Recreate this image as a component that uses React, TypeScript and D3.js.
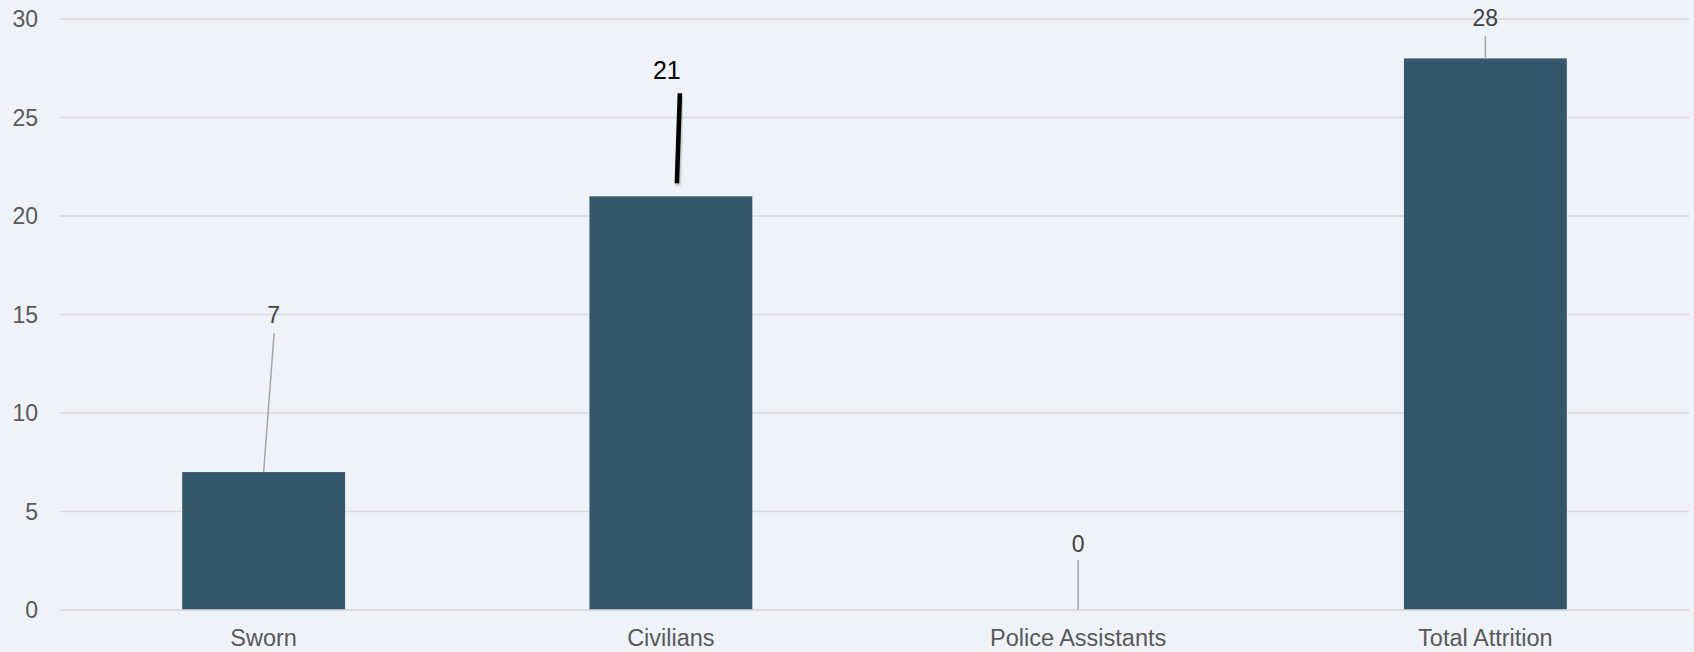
import React from "react";
import * as d3 from "d3";

const categories = ["Sworn", "Civilians", "Police Assistants", "Total Attrition"];
const values = [7, 21, 0, 28];
const yTicks = [0, 5, 10, 15, 20, 25, 30];

// label placement offsets relative to bar-top centre (layout, not data)
const labelLayout = [
  { lx: 10, ly: -149, x1: 10.5, y1: -139, x2: 0, y2: 0, emph: false },
  { lx: -4, ly: -117, x1: 9, y1: -103, x2: 6, y2: -13, emph: true },
  { lx: 0, ly: -58, x1: 0, y1: -50, x2: 0, y2: 0, emph: false },
  { lx: 0, ly: -32, x1: 0, y1: -22.5, x2: 0, y2: 0, emph: false },
];

const W = 1694;
const H = 652;
const left = 60;
const right = 1689;
const top = 19;
const bottom = 610;
const FONT = "Arial, 'Liberation Sans', sans-serif";

export default function App() {
  const x = d3
    .scaleBand<string>()
    .domain(categories)
    .range([left, right])
    .paddingInner(0.6)
    .paddingOuter(0.3);
  const y = d3.scaleLinear().domain([0, 30]).range([bottom, top]);

  return (
    <svg
      width={W}
      height={H}
      style={{ position: "absolute", left: 0, top: 0, background: "#eff3f8", display: "block" }}
    >
      <defs>
        <filter id="shadow" x="-100%" y="-20%" width="300%" height="140%">
          <feDropShadow dx="1" dy="2" stdDeviation="1.2" floodColor="#000" floodOpacity="0.3" />
        </filter>
      </defs>
      <rect x={0} y={0} width={W} height={H} fill="#eff3f8" />
      {yTicks.map((t) => (
        <g key={t}>
          <line
            x1={left}
            x2={right}
            y1={y(t)}
            y2={y(t)}
            stroke="#d9d9d9"
            strokeWidth={1.5}
          />
          <text
            x={38}
            y={y(t)}
            dy="0.35em"
            textAnchor="end"
            fontFamily={FONT}
            fontSize={23}
            fill="#595959"
          >
            {t}
          </text>
        </g>
      ))}
      {categories.map((c, i) => {
        const bx = x(c)!;
        const bw = x.bandwidth();
        const cx = bx + bw / 2;
        const ty = y(values[i]);
        return (
          <g key={c}>
            {values[i] > 0 && (
              <rect x={bx} y={ty} width={bw} height={bottom - ty} fill="#34576b" />
            )}
            <text
              x={cx}
              y={bottom + 36}
              textAnchor="middle"
              fontFamily={FONT}
              fontSize={23.5}
              fill="#595959"
            >
              {c}
            </text>
          </g>
        );
      })}
      <line x1={left} x2={right} y1={bottom} y2={bottom} stroke="#d9d9d9" strokeWidth={1.5} />
      {categories.map((c, i) => {
        const cx = x(c)! + x.bandwidth() / 2;
        const ty = y(values[i]);
        const L = labelLayout[i];
        return (
          <g key={"lbl" + c}>
            <line
              x1={cx + L.x1}
              y1={ty + L.y1}
              x2={cx + L.x2}
              y2={ty + L.y2}
              stroke={L.emph ? "#000" : "#a6a6a6"}
              strokeWidth={L.emph ? 4.5 : 1.5}
              filter={L.emph ? "url(#shadow)" : undefined}
            />
            <text
              x={cx + L.lx}
              y={ty + L.ly}
              textAnchor="middle"
              fontFamily={FONT}
              fontSize={L.emph ? 25 : 23}
              fill={L.emph ? "#000" : "#404040"}
            >
              {values[i]}
            </text>
          </g>
        );
      })}
    </svg>
  );
}
